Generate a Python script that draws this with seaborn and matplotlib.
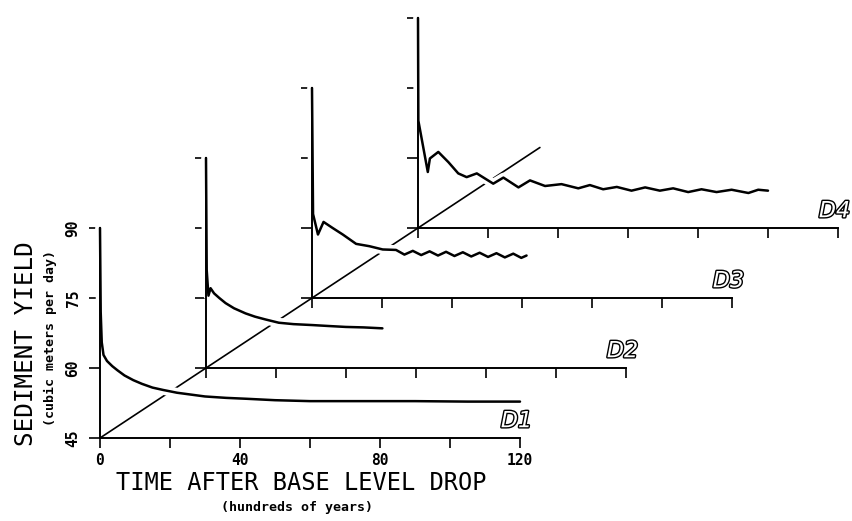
import matplotlib.pyplot as plt
import matplotlib.patheffects as pe
import seaborn as sns
import numpy as np
import pandas as pd

# Sediment yield after a base level drop, four runs (D1..D4)
# time in hundreds of years, yield in cubic meters per day
d1_time = [0, 0.2, 0.5, 1, 2, 3.5, 5, 7, 9.5, 12, 15, 18, 22, 26, 30, 36, 42, 50, 60, 75, 90, 105, 120]
d1_yield = [90, 72, 65.5, 62.8, 61.5, 60.4, 59.5, 58.4, 57.4, 56.6, 55.8, 55.3, 54.7, 54.3, 53.9,
            53.6, 53.4, 53.1, 52.9, 52.9, 52.9, 52.8, 52.8]

d2_time = [0, 0.2, 0.7, 1.3, 2.3, 3.8, 5.6, 8, 11.3, 14, 17, 20.8, 25, 30.4, 35, 39.9, 45, 50.4]
d2_yield = [90, 66, 60.5, 62.1, 61.0, 60.0, 58.9, 57.8, 56.7, 56.0, 55.4, 54.7, 54.4, 54.2, 54.0,
            53.8, 53.7, 53.5]

d3_time = [0, 0.3, 1.7, 3.3, 5.9, 8.8, 12.6, 16.4, 20.2, 24.0, 26.4, 28.8, 31.2, 33.6, 36.0, 38.3,
           40.7, 43.1, 45.5, 47.9, 50.3, 52.7, 55.1, 57.5, 59.8, 61.3]
d3_yield = [90, 63, 58.6, 61.3, 60.0, 58.6, 56.6, 56.1, 55.4, 55.3, 54.3, 55.1, 54.2, 55.0, 54.1,
            54.9, 54.0, 54.8, 53.9, 54.7, 53.8, 54.6, 53.7, 54.5, 53.6, 54.1]

d4_time = [0, 0.1, 2.8, 3.4, 5.8, 8.7, 11.5, 13.9, 16.8, 21.5, 24.4, 28.7, 32, 36.3, 41, 45.8, 49.1,
           52.9, 56.8, 61, 64.9, 69.1, 72.9, 77.2, 81, 85.3, 89.6, 94.4, 97.2, 100]
d4_yield = [90, 68, 57.0, 59.9, 61.3, 59.1, 56.7, 55.9, 56.7, 54.5, 55.8, 53.7, 55.2, 54.0, 54.4,
            53.5, 54.2, 53.3, 53.8, 53.0, 53.7, 53.0, 53.5, 52.7, 53.3, 52.7, 53.2, 52.5, 53.2, 53.0]

runs = ['D1', 'D2', 'D3', 'D4']
time_ticks = [0, 20, 40, 60, 80, 100, 120]
time_labels = ['0', '', '40', '', '80', '', '120']
yield_ticks = [45, 60, 75, 90]
yield_labels = ['45', '60', '75', '90']

frames = []
for name, t, y in zip(runs, [d1_time, d2_time, d3_time, d4_time],
                      [d1_yield, d2_yield, d3_yield, d4_yield]):
    frames.append(pd.DataFrame({'run': name, 'time': t, 'yield': y}))
df = pd.concat(frames, ignore_index=True)

sns.set_style('ticks', {'axes.edgecolor': 'black', 'xtick.color': 'black',
                        'ytick.color': 'black', 'text.color': 'black'})
plt.rcParams['font.family'] = ['DejaVu Sans Mono']

W, H = 853, 521
fig = plt.figure(figsize=(W / 100, H / 100), dpi=100)

# panel geometry in pixels: front panel origin, size, and the shift per run (fake 3D)
x0, y0 = 100, 438
pw, ph = 420, 210
shift_x, shift_y = 106, 70


def px_rect(left, bottom, w, h):
    return [left / W, (H - bottom) / H, w / W, h / H]


# background axes carrying the depth line through the panel origins
bg = fig.add_axes(px_rect(x0, y0, pw, ph), zorder=0)
bg.set_xlim(0, 120)
bg.set_ylim(45, 90)
bg.axis('off')
depth = np.array([0, 4.15])
bg.plot(depth * shift_x * 120 / pw, 45 + depth * shift_y * 45 / ph,
        color='black', lw=1.2, clip_on=False)

for k, name in enumerate(runs):
    ax = fig.add_axes(px_rect(x0 + k * shift_x, y0 - k * shift_y, pw, ph), zorder=len(runs) - k)
    sub = df[df['run'] == name]
    sns.lineplot(data=sub, x='time', y='yield', ax=ax, color='black', lw=1.8,
                 sort=False, estimator=None)
    line = ax.lines[-1]
    line.set_clip_on(False)
    line.set_solid_joinstyle('round')
    # white halo = hidden-line look where curves cross the depth line
    line.set_path_effects([pe.Stroke(linewidth=7, foreground='white'), pe.Normal()])

    ax.set_xlim(0, 120)
    ax.set_ylim(45, 90)
    ax.patch.set_visible(False)
    sns.despine(ax=ax)
    for s in ['left', 'bottom']:
        ax.spines[s].set_linewidth(1.4)
    ax.set_xticks(time_ticks)
    ax.set_yticks(yield_ticks)
    ax.tick_params(axis='x', bottom=True, direction='out', length=7, width=1.2, pad=4)
    ax.tick_params(axis='y', left=True, direction='out', length=8, width=1.2, pad=6)
    ax.set_xlabel('')
    ax.set_ylabel('')
    if k == 0:
        ax.set_xticklabels(time_labels, fontsize=10.5, fontweight='bold')
        ax.set_yticklabels(yield_labels, fontsize=10.5, fontweight='bold',
                           rotation=90, va='center')
    else:
        ax.set_xticklabels([])
        ax.set_yticklabels([])

    ax.text(119, 48.6, name, ha='center', va='center', fontsize=16,
            family='DejaVu Sans', fontstyle='italic', color='white', clip_on=False,
            path_effects=[pe.withStroke(linewidth=2, foreground='black')])

fig.text(301 / W, 1 - 490 / H, 'TIME AFTER BASE LEVEL DROP', ha='center', va='baseline', fontsize=17)
fig.text(297 / W, 1 - 508 / H, '(hundreds of years)', ha='center', va='center',
         fontsize=9.5, fontweight='bold')
fig.text(26 / W, 1 - 344 / H, 'SEDIMENT YIELD', ha='center', va='center', fontsize=17.5, rotation=90)
fig.text(50 / W, 1 - 338 / H, '(cubic meters per day)', ha='center', va='center',
         fontsize=9.5, fontweight='bold', rotation=90)

fig.savefig('out.png', dpi=100)
